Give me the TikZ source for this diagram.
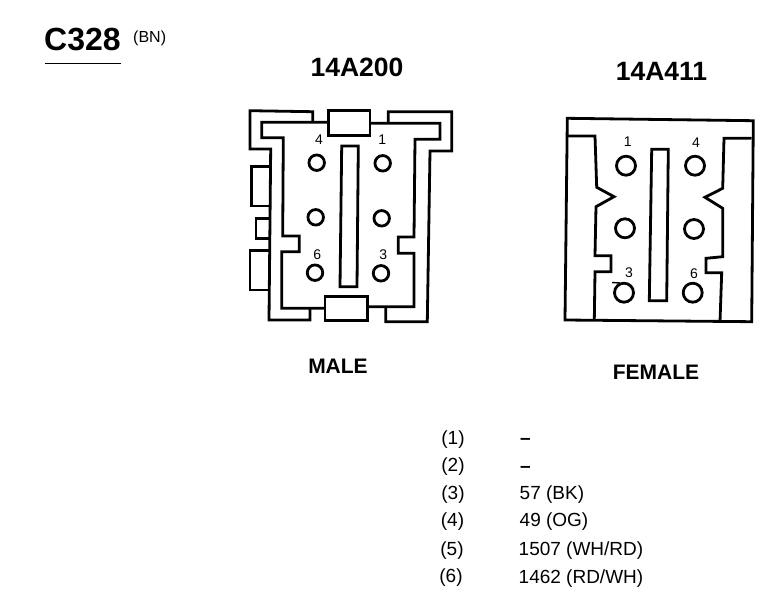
\documentclass[tikz,border=0pt]{standalone}
\usepackage{fontspec}
\setmainfont{Liberation Sans}
\tikzset{
  wire/.style={line width=2.8pt,line join=miter,line cap=butt},
  pin/.style={circle,draw,line width=2.8pt,minimum size=15.5pt,inner sep=0pt},
  fpin/.style={pin,minimum size=19pt},
  num/.style={font=\fontsize{14}{14}\selectfont,inner sep=0pt},
  ttl/.style={font=\bfseries\fontsize{26.5}{26.5}\selectfont,inner sep=0pt},
  captext/.style={font=\bfseries\fontsize{21}{21}\selectfont,inner sep=0pt},
  cell/.style={font=\fontsize{19}{19}\selectfont,inner sep=0pt}
}
\begin{document}
\begin{tikzpicture}[x=1pt,y=-1pt]
\useasboundingbox (0,0) rectangle (782,608);
\fill[white] (0,0) rectangle (782,608);
% titles
\node[inner sep=0pt,font=\bfseries\fontsize{32}{32}\selectfont,anchor=west] (title) at (44,40) {C328};
\node[inner sep=0pt,font=\fontsize{16}{16}\selectfont,anchor=west] (bn) at (133,38) {(BN)};
\draw[line width=1.6pt] (45,63.5) -- (121,63.5);
\node[ttl] (male-part) at (357,67) {14A200};
\node[ttl] (female-part) at (661.5,71) {14A411};
\node[captext] (male) at (338,366) {MALE};
\node[captext] (female) at (656,372) {FEMALE};
% male connector
\draw[wire] (312.7,122.3) -- (312.7,111.7) -- (250,110.7) -- (250,149) -- (270.7,149) -- (269,320) -- (310,320) -- (310,309);
\draw[wire] (328.3,122.3) -- (261.7,122.3) -- (261.7,137.7) -- (283.3,137.7) -- (282.7,236) -- (299.3,236) -- (299.3,251.7) -- (281.7,251.7) -- (281.7,308.3) -- (325,308.3);
\draw[wire] (328.3,110.7) rectangle (370,135.7);
\draw[wire] (325,296.7) rectangle (367.3,320.7);
\draw[wire] (370,123.3) -- (440,123.3) -- (440,139.3) -- (415,139.3) -- (414,237) -- (398.3,237) -- (398.3,253.3) -- (414,253.3) -- (414,306.7) -- (367.3,306.7);
\draw[wire] (388.3,123) -- (388.3,111.7) -- (451.7,111.7) -- (451.7,151) -- (430,151) -- (427.3,321.7) -- (385.7,321.7) -- (385.7,307);
\draw[wire] (270,166.7) -- (251.7,166.7) -- (251.7,206) -- (270,206);
\draw[wire] (269.5,218.3) -- (256,218.3) -- (256,238.3) -- (269.5,238.3);
\draw[wire] (269,250.7) -- (250,250.7) -- (250,290) -- (269,290);
\draw[wire] (341.7,146) -- (358.3,146) -- (357,286.7) -- (340,286.7) -- cycle;
\node[pin] (m4) at (316.7,162.7) {};
\node[pin] (m1) at (382.7,163.3) {};
\node[pin] (m5) at (315.7,217.3) {};
\node[pin] (m2) at (381.7,218.3) {};
\node[pin] (m6) at (315,272.7) {};
\node[pin] (m3) at (381,273.3) {};
\node[num] (lm4) at (319,140) {4};
\node[num] (lm1) at (382.3,140) {1};
\node[num] (lm6) at (317.3,255) {6};
\node[num] (lm3) at (383.3,255) {3};
% female connector
\draw[wire] (567.3,118.3) -- (753.3,120.7) -- (751.7,321.7) -- (565,320) -- cycle;
\draw[wire] (568,136) -- (595,136) -- (596.7,187.3) -- (614,196.7) -- (596,206.7) -- (595,255.7) -- (611,255.7) -- (611,271.7) -- (595,271.7) -- (594.3,320);
\draw[wire] (751.7,138.3) -- (724,138.3) -- (722.7,188.3) -- (705,197.3) -- (722.7,208.3) -- (722.7,256.7) -- (706,258.3) -- (706,272.7) -- (721.7,272.7) -- (720,321.7);
\draw[wire] (651.7,149.3) -- (668.3,149.3) -- (666.7,300.7) -- (649.3,300.7) -- cycle;
\node[fpin] (f1) at (626,165.7) {};
\node[fpin] (f4) at (695,165.7) {};
\node[fpin] (f2) at (625,228.3) {};
\node[fpin] (f5) at (694,229) {};
\node[fpin] (f3) at (624,292.7) {};
\node[fpin] (f6) at (692.7,292.7) {};
\draw[line width=1.4pt] (612,282.5) -- (620,283);
\node[num] (lf1) at (627.7,141.7) {1};
\node[num] (lf4) at (696,142.3) {4};
\node[num] (lf3) at (629,272.7) {3};
\node[num] (lf6) at (694,274) {6};
% table
\node[cell] (k1) at (453,440) {(1)};
\node[cell] (k2) at (453,467) {(2)};
\node[cell] (k3) at (453,495) {(3)};
\node[cell] (k4) at (452.5,521.5) {(4)};
\node[cell] (k5) at (452,550.5) {(5)};
\node[cell] (k6) at (451,578) {(6)};
\node[cell,anchor=west] (v1) at (520,441.5) {\bfseries –};
\node[cell,anchor=west] (v2) at (520,469) {\bfseries –};
\node[cell,anchor=west] (v3) at (519.5,495) {57 (BK)};
\node[cell,anchor=west] (v4) at (519.5,522) {49 (OG)};
\node[cell,anchor=west] (v5) at (518.5,550.5) {1507 (WH/RD)};
\node[cell,anchor=west] (v6) at (518.5,579) {1462 (RD/WH)};
\end{tikzpicture}
\end{document}
